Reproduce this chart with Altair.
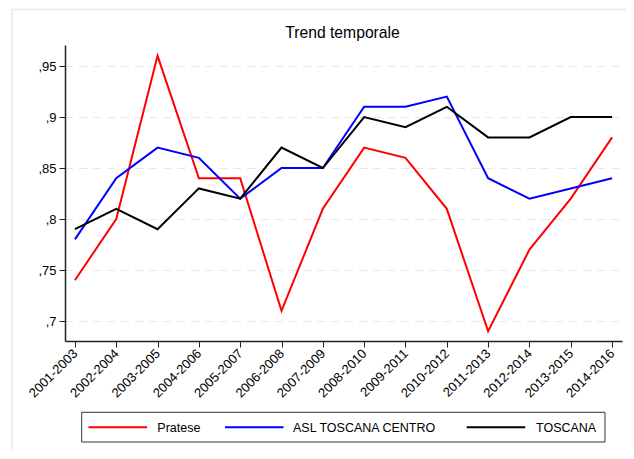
import altair as alt
import pandas as pd

periods = ["2001-2003", "2002-2004", "2003-2005", "2004-2006", "2005-2007", "2006-2008",
           "2007-2009", "2008-2010", "2009-2011", "2010-2012", "2011-2013", "2012-2014",
           "2013-2015", "2014-2016"]
pratese = [0.74, 0.80, 0.96, 0.84, 0.84, 0.71, 0.81, 0.87, 0.86, 0.81, 0.69, 0.77, 0.82, 0.88]
asl = [0.78, 0.84, 0.87, 0.86, 0.82, 0.85, 0.85, 0.91, 0.91, 0.92, 0.84, 0.82, 0.83, 0.84]
toscana = [0.79, 0.81, 0.79, 0.83, 0.82, 0.87, 0.85, 0.90, 0.89, 0.91, 0.88, 0.88, 0.90, 0.90]
series_names = ["Pratese", "ASL TOSCANA CENTRO", "TOSCANA"]
series_colors = ["#ff0000", "#0000ff", "#000000"]
y_ticks = [0.7, 0.75, 0.8, 0.85, 0.9, 0.95]
title_text = "Trend temporale"

rows = []
for name, vals in zip(series_names, [pratese, asl, toscana]):
    for p, v in zip(periods, vals):
        rows.append({"periodo": p, "valore": v, "serie": name})
df = pd.DataFrame(rows)

FONT = "Liberation Sans"

lines = alt.Chart(df).mark_line(strokeWidth=2).encode(
    x=alt.X("periodo:O", sort=periods, title=None,
            scale=alt.Scale(type="point", padding=0.24),
            axis=alt.Axis(labelAngle=-45, labelAlign="right", labelBaseline="middle",
                          labelFontSize=13, labelColor="#000000", domainColor="#222222",
                          tickColor="#222222", tickSize=6, labelPadding=4, grid=False)),
    y=alt.Y("valore:Q", title=None,
            scale=alt.Scale(domain=[0.6804, 0.9706], nice=False, zero=False),
            axis=alt.Axis(values=y_ticks, labelExpr="replace(format(datum.value, '.2~f'), '0.', ',')",
                          labelFontSize=13, labelColor="#000000", domainColor="#222222",
                          tickColor="#222222", tickSize=6, labelPadding=3,
                          grid=True, gridColor="#e8e8e8", gridDash=[8, 6], gridWidth=1)),
    color=alt.Color("serie:N", sort=series_names,
                    scale=alt.Scale(domain=series_names, range=series_colors),
                    legend=None),
    detail="serie:N",
)

one = pd.DataFrame({"k": [0]})

# outer graph-region frame
frame = alt.Chart(one).mark_rect(fill=None, stroke="#e4ecec", strokeWidth=1.5).encode(
    x=alt.value(-53), x2=alt.value(700), y=alt.value(-35.5), y2=alt.value(600))

# title
title = alt.Chart(one).mark_text(text=title_text, align="center", baseline="alphabetic",
                                 font=FONT, fontSize=15.7, color="#000000").encode(
    x=alt.value(277.5), y=alt.value(-6.7))

# legend box
legend_box = alt.Chart(one).mark_rect(fill="#ffffff", stroke="#333333", strokeWidth=1).encode(
    x=alt.value(16.7), x2=alt.value(540), y=alt.value(367.3), y2=alt.value(397))

layers = [frame, lines, title, legend_box]
sym_x = [23.5, 160, 401.7]
txt_x = [92.3, 228, 471]
for name, color, sx, tx in zip(series_names, series_colors, sym_x, txt_x):
    layers.append(
        alt.Chart(one).mark_rule(color=color, strokeWidth=2).encode(
            x=alt.value(sx), x2=alt.value(sx + 58.5), y=alt.value(382.3)))
    layers.append(
        alt.Chart(one).mark_text(text=name, align="left", baseline="middle", font=FONT,
                                 fontSize=12.5, color="#000000").encode(
            x=alt.value(tx), y=alt.value(382.8)))

chart = alt.layer(*layers).properties(
    width=557, height=296,
    autosize=alt.AutoSizeParams(type="none"),
    padding={"left": 57, "top": 37, "right": 4, "bottom": 110},
).configure_view(stroke=None).configure_axis(labelFont=FONT, domainWidth=1.5)

chart.save("out.html", embed_options={"renderer": "svg", "actions": False})
